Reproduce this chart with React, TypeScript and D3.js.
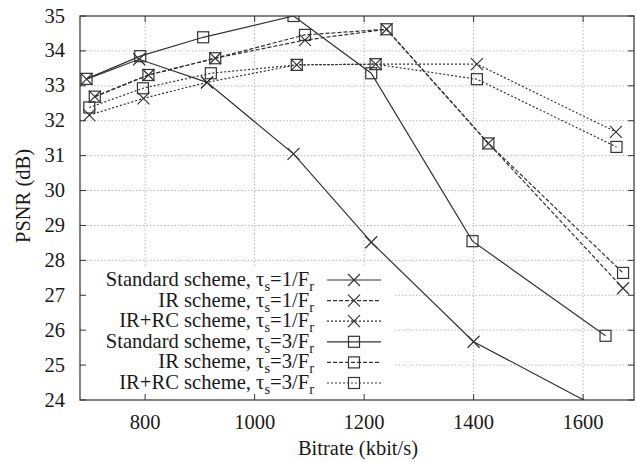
import React from "react";
import * as d3 from "d3";

const xTicks = [800, 1000, 1200, 1400, 1600];
const yTicks = [24, 25, 26, 27, 28, 29, 30, 31, 32, 33, 34, 35];

const stdT1X = [693, 789, 913, 1071, 1213, 1400, 1630];
const stdT1Y = [33.19, 33.76, 33.1, 31.05, 28.52, 25.67, 23.76];
const irT1X = [708, 806, 928, 1092, 1241, 1427, 1673];
const irT1Y = [32.69, 33.31, 33.79, 34.31, 34.62, 31.35, 27.2];
const rcT1X = [698, 797, 913, 1077, 1221, 1406, 1660];
const rcT1Y = [32.16, 32.64, 33.1, 33.6, 33.62, 33.62, 31.68];
const stdT3X = [693, 791, 906, 1071, 1213, 1398, 1641];
const stdT3Y = [33.2, 33.85, 34.39, 35.0, 33.36, 28.55, 25.84];
const irT3X = [708, 806, 928, 1092, 1241, 1427, 1673];
const irT3Y = [32.69, 33.31, 33.79, 34.46, 34.62, 31.35, 27.64];
const rcT3X = [698, 796, 920, 1077, 1221, 1406, 1661];
const rcT3Y = [32.38, 32.93, 33.36, 33.6, 33.62, 33.19, 31.25];

const schemes = ["Standard scheme", "IR scheme", "IR+RC scheme", "Standard scheme", "IR scheme", "IR+RC scheme"];
const taus = ["1", "1", "1", "3", "3", "3"];

type S = { name: string; tau: string; xs: number[]; ys: number[]; marker: "x" | "sq"; dash: string };
const series: S[] = [
  { name: schemes[0], tau: taus[0], xs: stdT1X, ys: stdT1Y, marker: "x", dash: "none" },
  { name: schemes[1], tau: taus[1], xs: irT1X, ys: irT1Y, marker: "x", dash: "4 2" },
  { name: schemes[2], tau: taus[2], xs: rcT1X, ys: rcT1Y, marker: "x", dash: "2 2" },
  { name: schemes[3], tau: taus[3], xs: stdT3X, ys: stdT3Y, marker: "sq", dash: "none" },
  { name: schemes[4], tau: taus[4], xs: irT3X, ys: irT3Y, marker: "sq", dash: "4 2" },
  { name: schemes[5], tau: taus[5], xs: rcT3X, ys: rcT3Y, marker: "sq", dash: "2 2" },
];

const L = 80, R = 634, T = 16, B = 400;
const FONT = "Liberation Serif";
const INK = "#333";
const TXT = "#1a1a1a";
const css = `.serif, .serif * { font-family: "Liberation Serif", "DejaVu Serif", serif !important; }`;

function Marker({ kind, x, y }: { kind: string; x: number; y: number }) {
  if (kind === "x") {
    const h = 6;
    return (
      <path d={`M${x - h},${y - h}L${x + h},${y + h}M${x - h},${y + h}L${x + h},${y - h}`} stroke={INK} strokeWidth={1.2} fill="none" />
    );
  }
  const h = 5.5;
  return <rect x={x - h} y={y - h} width={2 * h} height={2 * h} stroke={INK} strokeWidth={1.2} fill="none" />;
}

export default function App() {
  const x = d3.scaleLinear().domain([681, 1693]).range([L, R]);
  const y = d3.scaleLinear().domain([24, 35]).range([B, T]);
  const line = d3.line<[number, number]>().x((d) => x(d[0])).y((d) => y(d[1]));

  const legTop = 266;
  const rowY = (i: number) => 280 + i * 20.6;

  return (
    <svg className="serif" width={637} height={462} fontFamily={FONT} style={{ position: "absolute", left: 0, top: 0, background: "#fff", fontFamily: FONT }}>
      <style>{css}</style>
      <defs>
        <clipPath id="plot">
          <rect x={L} y={T} width={R - L} height={B - T} />
        </clipPath>
      </defs>
      <rect x={0} y={0} width={637} height={462} fill="#fff" />
      {/* grid */}
      <g stroke="#b8b8b8" strokeWidth={1} strokeDasharray="1.5 2">
        {xTicks.map((t) => (
          <line key={"gx" + t} x1={x(t)} x2={x(t)} y1={T} y2={B} />
        ))}
        {yTicks.slice(1, -1).map((t) => (
          <line key={"gy" + t} x1={L} x2={R} y1={y(t)} y2={y(t)} />
        ))}
      </g>
      {/* data */}
      <g clipPath="url(#plot)">
        {series.map((s, i) => {
          const pts = s.xs.map((v, j) => [v, s.ys[j]] as [number, number]);
          return (
            <g key={"s" + i}>
              <path d={line(pts) || ""} fill="none" stroke={INK} strokeWidth={1.2} strokeDasharray={s.dash} />
              {pts.map((p, j) => (
                <Marker key={j} kind={s.marker} x={x(p[0])} y={y(p[1])} />
              ))}
            </g>
          );
        })}
      </g>
      {/* legend */}
      <rect x={L + 1} y={legTop} width={393 - L} height={B - legTop - 1} fill="#fff" />
      {series.map((s, i) => (
        <g key={"l" + i}>
          <text className="serif" x={314} y={rowY(i) + 6} textAnchor="end" fontSize={20.6} fill={TXT} fontFamily={FONT}>
            {s.name}, τ<tspan fontSize={14.5} dy={5}>s</tspan>
            <tspan dy={-5}>={s.tau}/F</tspan>
            <tspan fontSize={14.5} dy={5}>r</tspan>
          </text>
          <line x1={327} x2={381} y1={rowY(i)} y2={rowY(i)} stroke={INK} strokeWidth={1.2} strokeDasharray={s.dash} />
          <Marker kind={s.marker} x={354} y={rowY(i)} />
        </g>
      ))}
      {/* border & ticks */}
      <rect x={L} y={T} width={R - L} height={B - T} fill="none" stroke={INK} strokeWidth={1.2} />
      <g stroke={INK} strokeWidth={1}>
        {xTicks.map((t) => (
          <g key={"tx" + t}>
            <line x1={x(t)} x2={x(t)} y1={B} y2={B - 6} />
            <line x1={x(t)} x2={x(t)} y1={T} y2={T + 6} />
          </g>
        ))}
        {yTicks.map((t) => (
          <g key={"ty" + t}>
            <line x1={L} x2={L + 6} y1={y(t)} y2={y(t)} />
            <line x1={R} x2={R - 6} y1={y(t)} y2={y(t)} />
          </g>
        ))}
      </g>
      {xTicks.map((t) => (
        <text className="serif" key={"lx" + t} x={x(t)} y={429} textAnchor="middle" fontSize={20.5} fill={TXT} fontFamily={FONT}>
          {t}
        </text>
      ))}
      {yTicks.map((t) => (
        <text className="serif" key={"ly" + t} x={65} y={y(t) + 6.5} textAnchor="end" fontSize={20.5} fill={TXT} fontFamily={FONT}>
          {t}
        </text>
      ))}
      <text className="serif" x={358} y={455} textAnchor="middle" fontSize={20.5} fill={TXT} fontFamily={FONT}>
        Bitrate (kbit/s)
      </text>
      <text className="serif" transform="translate(30,196) rotate(-90)" textAnchor="middle" fontSize={20.5} fill={TXT} fontFamily={FONT}>
        PSNR (dB)
      </text>
    </svg>
  );
}
